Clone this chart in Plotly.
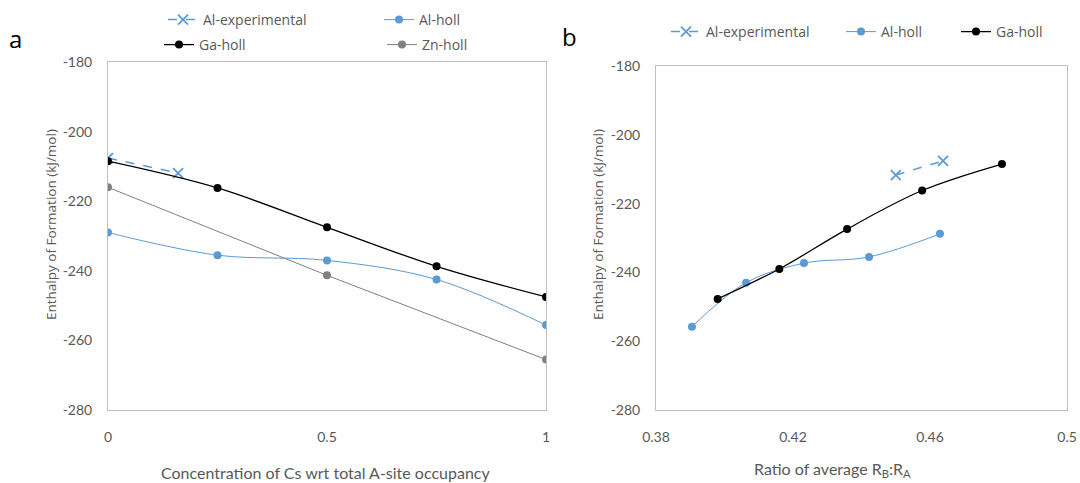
import plotly.graph_objects as go

# Panel a data
conc = [0, 0.25, 0.5, 0.75, 1]
a_exp_x = [0, 0.16]
a_exp_y = [-207.6, -211.9]
a_al_holl = [-229.0, -235.5, -237.0, -242.5, -255.6]
a_ga_holl = [-208.5, -216.2, -227.5, -238.7, -247.5]
zn_x = [0, 0.5, 1]
zn_holl = [-216.0, -241.3, -265.5]

# Panel b data
b_exp_x = [0.450, 0.4638]
b_exp_y = [-211.7, -207.6]
b_al_x = [0.3905, 0.4063, 0.4232, 0.4422, 0.4629]
b_al_y = [-255.8, -243.0, -237.3, -235.5, -228.8]
b_ga_x = [0.398, 0.416, 0.4358, 0.4577, 0.481]
b_ga_y = [-247.7, -239.0, -227.4, -216.2, -208.5]

# Tick labels
y_ticks = [-280, -260, -240, -220, -200, -180]
y_labels = ["-280", "-260", "-240", "-220", "-200", "-180"]
a_xticks = [0, 0.5, 1]
a_xlabels = ["0", "0.5", "1"]
b_xticks = [0.38, 0.42, 0.46, 0.5]
b_xlabels = ["0.38", "0.42", "0.46", "0.5"]

BLUE = "#5b9bd5"
BLACK = "#000000"
GREY = "#808080"
TICK = "#595959"
BOX = "#bfbfbf"
NARROW = "Lato"
W, H = 1080, 483

fig = go.Figure()

def exp_trace(x, y, xa, ya, legend):
    return go.Scatter(x=x, y=y, xaxis=xa, yaxis=ya, name="Al-experimental", legend=legend,
                      mode="lines+markers",
                      line=dict(color=BLUE, width=1.5, dash="dash"),
                      marker=dict(symbol="x-thin", size=10, line=dict(color=BLUE, width=1.8)))

def circ_trace(x, y, xa, ya, name, color, legend, width=1.0, shape="spline"):
    return go.Scatter(x=x, y=y, xaxis=xa, yaxis=ya, name=name, legend=legend,
                      mode="lines+markers", line=dict(color=color, width=width, shape=shape),
                      marker=dict(symbol="circle", size=8, color=color))

# Panel a
fig.add_trace(exp_trace(a_exp_x, a_exp_y, "x", "y", "legend"))
fig.add_trace(circ_trace(conc, a_al_holl, "x", "y", "Al-holl", BLUE, "legend2", 1.0))
fig.add_trace(circ_trace(conc, a_ga_holl, "x", "y", "Ga-holl", BLACK, "legend3", 1.3))
fig.add_trace(circ_trace(zn_x, zn_holl, "x", "y", "Zn-holl", GREY, "legend4", 1.0, "linear"))

# Panel b
fig.add_trace(exp_trace(b_exp_x, b_exp_y, "x2", "y2", "legend5"))
fig.add_trace(circ_trace(b_al_x, b_al_y, "x2", "y2", "Al-holl", BLUE, "legend6", 1.0))
fig.add_trace(circ_trace(b_ga_x, b_ga_y, "x2", "y2", "Ga-holl", BLACK, "legend7", 1.3))

tickfont = dict(family=NARROW, size=14, color=TICK)
axcommon = dict(showgrid=False, zeroline=False, showline=True, linecolor=BOX, linewidth=1,
                mirror=True, ticks="", tickfont=tickfont, automargin=False)

legfont = dict(family="Open Sans", size=14, color=TICK)

def leg(px, py):
    return dict(x=px / W, y=1 - py / H, xanchor="left", yanchor="middle", orientation="v",
                font=legfont, tracegroupgap=0, bgcolor="rgba(0,0,0,0)")

fig.update_layout(
    width=W, height=H,
    margin=dict(l=0, r=0, t=0, b=0, autoexpand=False),
    paper_bgcolor="white", plot_bgcolor="white",
    xaxis=dict(domain=[0.1, 0.5056], range=[0, 1], tickvals=a_xticks,
               ticktext=a_xlabels, ticklabelstandoff=14, **axcommon),
    yaxis=dict(domain=[0.1511, 0.8716], range=[-280, -180], tickvals=y_ticks,
               ticktext=y_labels, ticklabelstandoff=12, **axcommon),
    xaxis2=dict(domain=[0.6074, 0.988], range=[0.38, 0.5], tickvals=b_xticks,
                ticktext=b_xlabels, ticklabelstandoff=14, anchor="y2", **axcommon),
    yaxis2=dict(domain=[0.1511, 0.8634], range=[-280, -180], tickvals=y_ticks,
                ticktext=y_labels, ticklabelstandoff=12, anchor="x2", **axcommon),
    legend=leg(163, 20),
    legend2=leg(379, 20),
    legend3=leg(159, 45),
    legend4=leg(382, 45),
    legend5=leg(666, 32),
    legend6=leg(841, 32),
    legend7=leg(956, 32),
    showlegend=True,
    annotations=[
        dict(text="a", x=15 / W, y=1 - 38 / H, xref="paper", yref="paper",
             showarrow=False, xanchor="center", yanchor="middle",
             font=dict(family="Open Sans", size=24, color="black")),
        dict(text="b", x=569 / W, y=1 - 36 / H, xref="paper", yref="paper",
             showarrow=False, xanchor="center", yanchor="middle",
             font=dict(family="Open Sans", size=24, color="black")),
        dict(text="Enthalpy of Formation (kJ/mol)", x=51 / W, y=1 - 225 / H,
             xref="paper", yref="paper", showarrow=False, textangle=-90,
             xanchor="center", yanchor="middle",
             font=dict(family="Open Sans", size=13.5, color=TICK)),
        dict(text="Enthalpy of Formation (kJ/mol)", x=598 / W, y=1 - 225 / H,
             xref="paper", yref="paper", showarrow=False, textangle=-90,
             xanchor="center", yanchor="middle",
             font=dict(family="Open Sans", size=13.5, color=TICK)),
        dict(text="Concentration of Cs wrt total A-site occupancy", x=325 / W,
             y=1 - 472 / H, xref="paper", yref="paper", showarrow=False,
             xanchor="center", yanchor="middle",
             font=dict(family=NARROW, size=16, color=TICK)),
        dict(text="Ratio of average R<sub>B</sub>:R<sub>A</sub>", x=832 / W,
             y=1 - 469 / H, xref="paper", yref="paper", showarrow=False,
             xanchor="center", yanchor="middle",
             font=dict(family=NARROW, size=16, color=TICK)),
    ],
)

fig.write_html(
    "out.html",
    config={"displayModeBar": False},
    post_script="document.body.style.margin='0px';document.body.style.overflow='hidden';",
)
